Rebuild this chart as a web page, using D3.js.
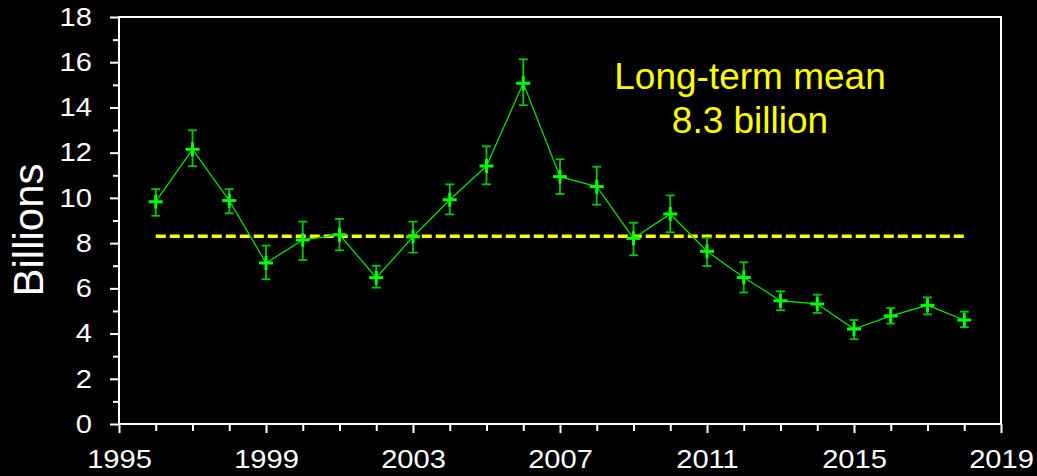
<!DOCTYPE html>
<html>
<head>
<meta charset="utf-8">
<script src="https://cdn.jsdelivr.net/npm/d3@7"></script>
<style>
  html, body { margin: 0; padding: 0; background: #000; }
  svg { display: block; font-family: Arial, "Liberation Sans", sans-serif; }
</style>
</head>
<body>
<svg id="chart" width="1037" height="476"></svg>
<script>
// Annual estimates (billions) with their lower/upper error limits
const years = [1996, 1997, 1998, 1999, 2000, 2001, 2002, 2003, 2004, 2005, 2006, 2007,
               2008, 2009, 2010, 2011, 2012, 2013, 2014, 2015, 2016, 2017, 2018];
const values = [9.83, 12.15, 9.88, 7.12, 8.14, 8.37, 6.47, 8.28, 9.92, 11.41, 15.07, 10.94,
                10.50, 8.21, 9.29, 7.64, 6.48, 5.45, 5.31, 4.20, 4.78, 5.25, 4.60];
const lower = [9.21, 11.40, 9.32, 6.40, 7.25, 7.68, 6.03, 7.58, 9.27, 10.60, 14.10, 10.17,
               9.70, 7.46, 8.48, 6.99, 5.82, 5.03, 4.91, 3.75, 4.44, 4.85, 4.28];
const upper = [10.39, 12.99, 10.39, 7.89, 8.95, 9.07, 7.00, 8.95, 10.60, 12.28, 16.13, 11.71,
               11.38, 8.90, 10.11, 8.24, 7.15, 5.87, 5.72, 4.60, 5.13, 5.60, 4.97];
const meanValue = 8.3;
const meanText = ["Long-term mean", "8.3 billion"];
const yTickLabels = [0, 2, 4, 6, 8, 10, 12, 14, 16, 18];
const xTickLabels = [1995, 1999, 2003, 2007, 2011, 2015, 2019];

const W = 1037, H = 476;
const margin = { top: 17, right: 36, bottom: 52, left: 119 };
const svg = d3.select("#chart");
svg.append("rect").attr("width", W).attr("height", H).attr("fill", "#000");

const x = d3.scaleLinear().domain([1995, 2019]).range([margin.left, W - margin.right]);
const y = d3.scaleLinear().domain([0, 18]).range([H - margin.bottom, margin.top]);

const white = "#ffffff";
const labelStretch = 1.12;

// Minor ticks (every unit / every year)
const yMinor = svg.append("g")
  .attr("transform", `translate(${margin.left},0)`)
  .call(d3.axisLeft(y).tickValues(d3.range(1, 18, 2)).tickSize(6).tickFormat(""));
const xMinor = svg.append("g")
  .attr("transform", `translate(0,${H - margin.bottom})`)
  .call(d3.axisBottom(x).tickValues(d3.range(1995, 2020).filter(v => (v - 1995) % 4 !== 0)).tickSize(7).tickFormat(""));

// Major ticks with labels
const yAxis = svg.append("g")
  .attr("transform", `translate(${margin.left},0)`)
  .call(d3.axisLeft(y).tickValues(yTickLabels).tickSize(9).tickPadding(18).tickFormat(d3.format("d")));
const xAxis = svg.append("g")
  .attr("transform", `translate(0,${H - margin.bottom})`)
  .call(d3.axisBottom(x).tickValues(xTickLabels).tickSize(9).tickPadding(17).tickFormat(d3.format("d")));

[yMinor, xMinor, yAxis, xAxis].forEach(g => {
  g.select(".domain").remove();
  g.selectAll(".tick line").attr("stroke", white).attr("stroke-width", 2);
  g.selectAll(".tick text").attr("fill", white).attr("font-size", 26)
    .attr("font-family", "Arial, 'Liberation Sans', sans-serif");
});

// Tick labels are drawn slightly wide
yAxis.selectAll(".tick text")
  .attr("x", 0)
  .attr("transform", `translate(-27,0) scale(${labelStretch},1)`);
xAxis.selectAll(".tick text")
  .attr("transform", `scale(${labelStretch},1)`);

// Plot frame
svg.append("rect")
  .attr("x", margin.left).attr("y", margin.top)
  .attr("width", W - margin.left - margin.right)
  .attr("height", H - margin.top - margin.bottom)
  .attr("fill", "none").attr("stroke", white).attr("stroke-width", 2);

// Y-axis title
svg.append("text")
  .attr("transform", "translate(43,230) rotate(-90)")
  .attr("text-anchor", "middle")
  .attr("fill", white)
  .attr("font-size", 42)
  .text("Billions");

// Long-term mean line
svg.append("line")
  .attr("x1", x(years[0])).attr("x2", x(years[years.length - 1]))
  .attr("y1", y(meanValue)).attr("y2", y(meanValue))
  .attr("stroke", "#ffff00").attr("stroke-width", 3.5)
  .attr("stroke-dasharray", "10 4");

// Mean annotation
svg.append("text")
  .attr("x", 750).attr("text-anchor", "middle")
  .attr("fill", "#ffff00").attr("font-size", 37)
  .selectAll("tspan").data(meanText).join("tspan")
  .attr("x", 750)
  .attr("y", (d, i) => 89 + i * 44)
  .text(d => d);

const data = years.map((yr, i) => ({ yr, v: values[i], lo: lower[i], hi: upper[i] }));

// Connecting line
svg.append("path")
  .datum(data)
  .attr("fill", "none")
  .attr("stroke", "#00e000")
  .attr("stroke-width", 1.3)
  .attr("d", d3.line().x(d => x(d.yr)).y(d => y(d.v)));

// Error bars
const err = svg.append("g").attr("stroke", "#00c800").attr("stroke-width", 1.8);
err.selectAll("line.v").data(data).join("line").attr("class", "v")
  .attr("x1", d => x(d.yr)).attr("x2", d => x(d.yr))
  .attr("y1", d => y(d.lo)).attr("y2", d => y(d.hi));
err.selectAll("line.t").data(data).join("line").attr("class", "t")
  .attr("x1", d => x(d.yr) - 4.5).attr("x2", d => x(d.yr) + 4.5)
  .attr("y1", d => y(d.hi)).attr("y2", d => y(d.hi));
err.selectAll("line.b").data(data).join("line").attr("class", "b")
  .attr("x1", d => x(d.yr) - 4.5).attr("x2", d => x(d.yr) + 4.5)
  .attr("y1", d => y(d.lo)).attr("y2", d => y(d.lo));

// Cross markers
const mk = svg.append("g").attr("stroke", "#00ff00").attr("stroke-width", 3);
mk.selectAll("line.h").data(data).join("line").attr("class", "h")
  .attr("x1", d => x(d.yr) - 7).attr("x2", d => x(d.yr) + 7)
  .attr("y1", d => y(d.v)).attr("y2", d => y(d.v));
mk.selectAll("line.vv").data(data).join("line").attr("class", "vv")
  .attr("x1", d => x(d.yr)).attr("x2", d => x(d.yr))
  .attr("y1", d => y(d.v) - 7).attr("y2", d => y(d.v) + 7);
</script>
</body>
</html>
